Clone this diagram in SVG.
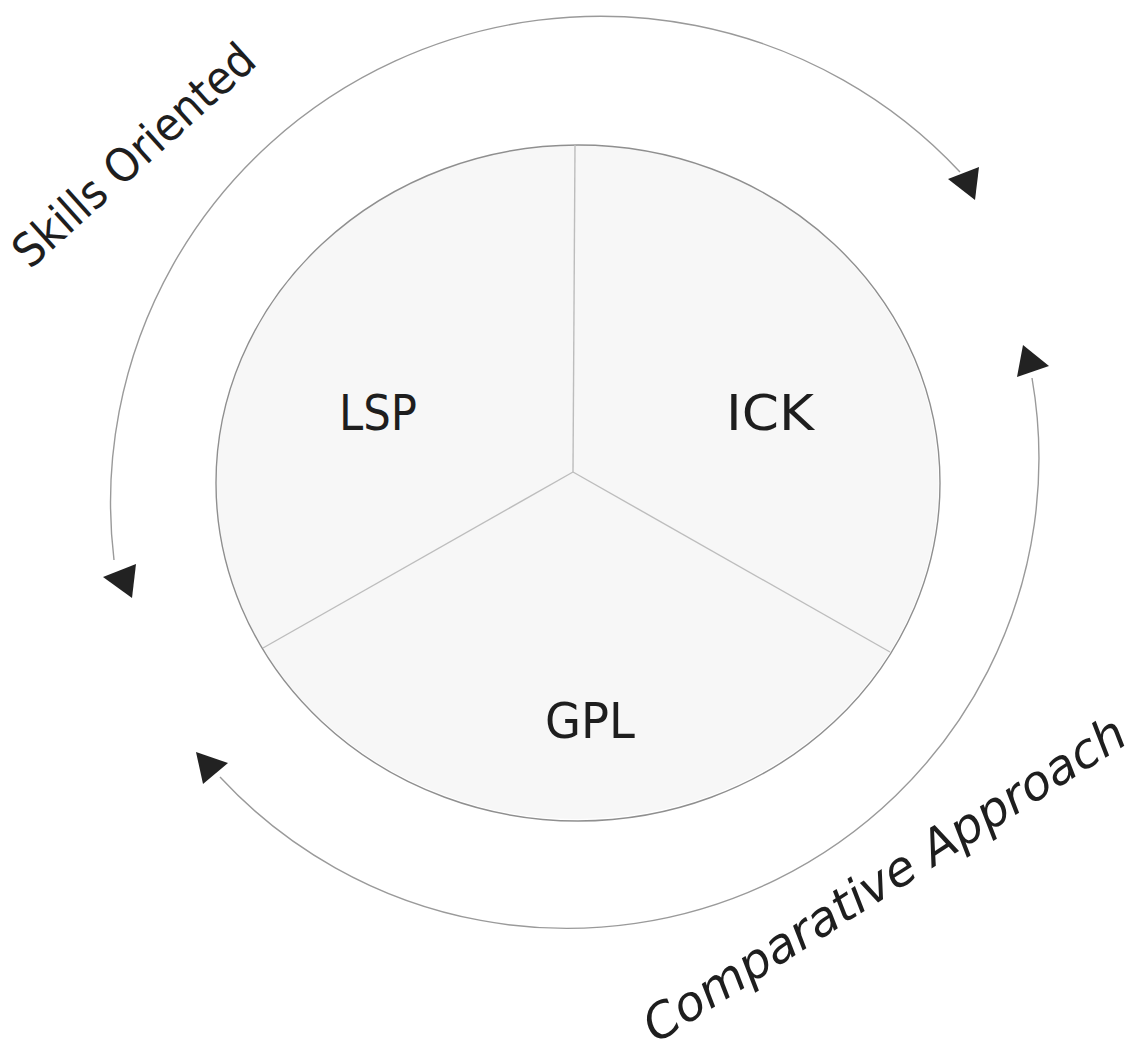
<svg xmlns="http://www.w3.org/2000/svg" width="1142" height="1057" viewBox="0 0 1142 1057">
<style>
.seg{fill:#f7f7f7;stroke:none}
.rim{fill:none;stroke:#8f8f8f;stroke-width:1.4}
.spoke{fill:none;stroke:#bdbdbd;stroke-width:1.4}
.arc{fill:none;stroke:#9a9a9a;stroke-width:1.4}
.head{fill:#222;stroke:none}
.lbl{font-family:"DejaVu Sans","Liberation Sans",sans-serif;fill:#1e1e1e;font-size:50px;text-anchor:middle}
.side{font-family:"DejaVu Sans","Liberation Sans",sans-serif;fill:#1e1e1e}
</style>
<rect width="1142" height="1057" fill="#ffffff"/>
<g id="node-lsp">
<path class="seg" d="M 573 472 L 575 145 A 362 338 0 0 0 263 648 Z"/>
<text class="lbl" x="378" y="430" textLength="78" lengthAdjust="spacingAndGlyphs">LSP</text>
</g>
<g id="node-ick">
<path class="seg" d="M 573 472 L 890 652 A 362 338 0 0 0 575 145 Z"/>
<text class="lbl" x="770" y="430" textLength="88" lengthAdjust="spacingAndGlyphs">ICK</text>
</g>
<g id="node-gpl">
<path class="seg" d="M 573 472 L 263 648 A 362 338 0 0 0 890 652 Z"/>
<text class="lbl" x="590" y="738" textLength="90" lengthAdjust="spacingAndGlyphs">GPL</text>
</g>
<g id="frame">
<ellipse class="rim" cx="578" cy="483" rx="362" ry="338"/>
<line class="spoke" x1="573" y1="472" x2="575" y2="145"/>
<line class="spoke" x1="573" y1="472" x2="263" y2="648"/>
<line class="spoke" x1="573" y1="472" x2="890" y2="652"/>
</g>
<g id="connectors">
<path class="arc" d="M 114 560 A 490 486 0 0 1 960 172"/>
<polygon class="head" points="948,179 979,167 975,200"/>
<polygon class="head" points="103,577 136,564 132,598"/>
<path class="arc" d="M 1032 378 A 472 470 0 0 1 220 777"/>
<polygon class="head" points="1023,345 1049,366 1017,377"/>
<polygon class="head" points="196,752 228,763 203,784"/>
</g>
<g id="labels">
<text class="side" font-size="46" transform="translate(30,270) rotate(-42)" textLength="308" lengthAdjust="spacingAndGlyphs">Skills Oriented</text>
<text class="side" font-size="48" font-style="italic" transform="translate(656,1044) rotate(-32.5)" textLength="562" lengthAdjust="spacingAndGlyphs">Comparative Approach</text>
</g>
</svg>
